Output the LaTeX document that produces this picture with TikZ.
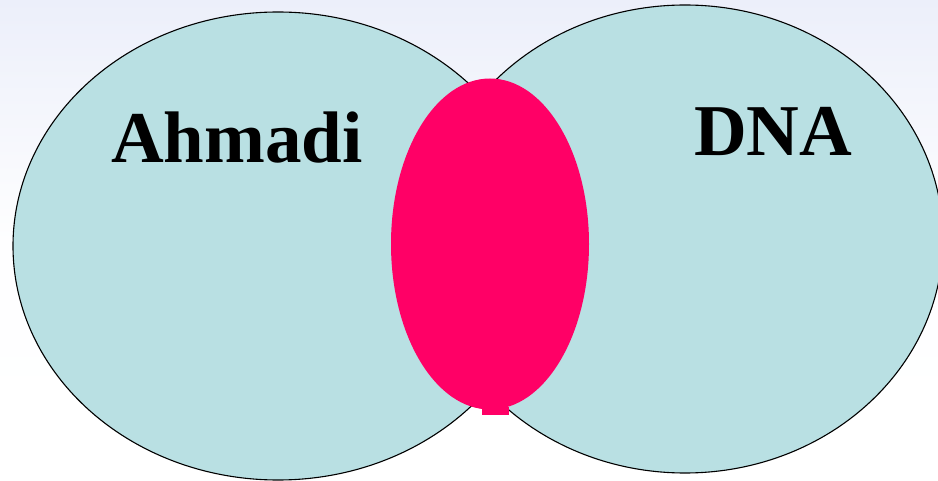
\documentclass[tikz,border=0pt]{standalone}
\usepackage{fontspec}
\setmainfont{Liberation Serif}
\usetikzlibrary{shapes.geometric}

\definecolor{setfill}{RGB}{185,224,227}
\definecolor{lensfill}{RGB}{255,0,102}
\definecolor{haze}{RGB}{236,239,250}

\begin{document}
\begin{tikzpicture}[
x=1pt, y=-1pt,
every node/.style={font=\bfseries\fontsize{73}{80}\selectfont},
setshape/.style={ellipse, draw, line width=1.1pt, fill=setfill, inner sep=0pt},
lensshape/.style={ellipse, fill=lensfill, inner sep=0pt, minimum width=198pt, minimum height=331pt},
label/.style={anchor=base west, inner sep=0pt}
]

% Frame and background
\useasboundingbox (0,0) rectangle (938,481);
\clip (0,0) rectangle (938,481);
\shade[top color=haze, bottom color=white, middle color=white!94!haze] (0,0) rectangle (938,481);

% Sets
\node[setshape, minimum width=530pt, minimum height=468pt] (ahmadiset) at (278,246) {};
\node[setshape, minimum width=516pt, minimum height=468pt] (dnaset) at (685,239) {};

% Overlap
\node[lensshape] (overlap) at (490,244) {};
\fill[lensfill] ([xshift=-8pt, yshift=3pt]overlap.south) rectangle ([xshift=19pt, yshift=-5pt]overlap.south);

% Labels
\node[label] (ahmadilabel) at (111,163) {Ahmadi};
\node[label] (dnalabel) at (694,156) {DNA};

\end{tikzpicture}
\end{document}
